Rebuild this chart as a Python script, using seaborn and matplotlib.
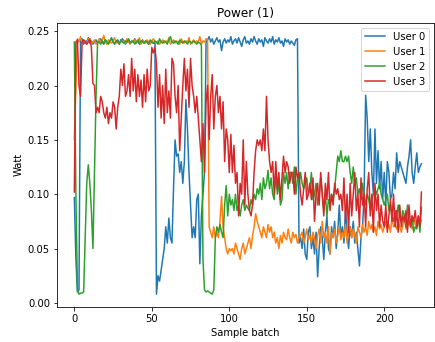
import numpy as np
import pandas as pd
import matplotlib
matplotlib.use("Agg")
import matplotlib.pyplot as plt
import seaborn as sns

users = ["User 0", "User 1", "User 2", "User 3"]

user0 = ([0.097, 0.040, 0.010, 0.012, 0.242]
 + [0.243, 0.238, 0.241, 0.240, 0.244, 0.239, 0.241, 0.238, 0.240, 0.242,
    0.239, 0.241, 0.243, 0.240, 0.238, 0.242, 0.240, 0.239, 0.241, 0.244,
    0.240, 0.238, 0.241, 0.242, 0.239, 0.240, 0.243, 0.241, 0.238, 0.240,
    0.242, 0.239, 0.241, 0.240, 0.243, 0.239, 0.241, 0.238, 0.240, 0.242,
    0.239, 0.241, 0.240, 0.238, 0.241, 0.240, 0.239, 0.240]
 + [0.008, 0.025, 0.020, 0.030, 0.040, 0.050, 0.070, 0.055, 0.078, 0.060,
    0.055, 0.105, 0.150, 0.135, 0.137, 0.120, 0.130, 0.110, 0.130, 0.187,
    0.160, 0.120, 0.090, 0.060, 0.070, 0.060, 0.095, 0.100, 0.036, 0.080,
    0.100, 0.120, 0.240]
 + [0.242, 0.245, 0.240, 0.243, 0.238, 0.241, 0.244, 0.240, 0.242, 0.232,
    0.240, 0.243, 0.239, 0.242, 0.240, 0.245, 0.238, 0.241, 0.243, 0.239,
    0.244, 0.240, 0.236, 0.242, 0.245, 0.239, 0.241, 0.238, 0.243, 0.240,
    0.245, 0.241, 0.238, 0.243, 0.240, 0.242, 0.236, 0.244, 0.241, 0.239,
    0.243, 0.240, 0.245, 0.238, 0.242, 0.240, 0.244, 0.239, 0.241, 0.236,
    0.243, 0.240, 0.242, 0.238, 0.241, 0.239, 0.237, 0.242, 0.243]
 + [0.055, 0.060, 0.050, 0.068, 0.045, 0.040, 0.065, 0.070, 0.050, 0.060,
    0.045, 0.065, 0.024, 0.050, 0.070, 0.060, 0.040, 0.065, 0.080, 0.050,
    0.045, 0.070, 0.060, 0.075, 0.050, 0.065, 0.090, 0.060, 0.070, 0.055,
    0.085, 0.065, 0.050, 0.070, 0.060, 0.075, 0.055, 0.065, 0.050, 0.034,
    0.060, 0.070, 0.100, 0.191, 0.170, 0.130, 0.160, 0.120, 0.100, 0.160,
    0.110, 0.140, 0.105, 0.130, 0.095, 0.120, 0.090, 0.130, 0.120, 0.095,
    0.100, 0.120, 0.105, 0.138, 0.120, 0.130, 0.125, 0.120, 0.115, 0.110,
    0.125, 0.135, 0.150, 0.120, 0.110, 0.125, 0.138, 0.120, 0.125, 0.128])

user1 = ([0.150, 0.200, 0.243]
 + [0.240, 0.245, 0.239, 0.242, 0.240, 0.238, 0.243, 0.241, 0.239, 0.240,
    0.242, 0.238, 0.240, 0.243, 0.239, 0.241, 0.246, 0.240, 0.238, 0.242,
    0.240, 0.239, 0.241, 0.244, 0.239, 0.240, 0.238, 0.242, 0.240, 0.241,
    0.239, 0.243, 0.240, 0.238, 0.241, 0.240, 0.242, 0.239, 0.240, 0.244,
    0.238, 0.241, 0.240, 0.239, 0.242, 0.240, 0.238, 0.241, 0.243, 0.240,
    0.239, 0.241, 0.238, 0.240, 0.242, 0.239, 0.241, 0.240, 0.244, 0.238,
    0.240, 0.242, 0.239, 0.241, 0.240, 0.238, 0.243, 0.240, 0.239, 0.241,
    0.240, 0.244, 0.238, 0.240, 0.242, 0.239, 0.241, 0.240, 0.245, 0.238,
    0.241, 0.240, 0.243, 0.242]
 + [0.070, 0.065, 0.060, 0.070, 0.060, 0.065, 0.060, 0.075, 0.098, 0.070,
    0.060, 0.050, 0.045, 0.050, 0.048, 0.050, 0.045, 0.055, 0.050, 0.045,
    0.040, 0.050, 0.055, 0.045, 0.050, 0.055, 0.060, 0.050, 0.062, 0.070,
    0.082, 0.075, 0.070, 0.065, 0.060, 0.070, 0.065, 0.060, 0.072, 0.065,
    0.070, 0.060, 0.065, 0.055, 0.060, 0.050, 0.062, 0.055, 0.065, 0.060,
    0.058, 0.068, 0.060, 0.055, 0.065, 0.060, 0.063, 0.055, 0.060, 0.062,
    0.065, 0.055, 0.060, 0.068, 0.058, 0.062, 0.055, 0.065, 0.060, 0.050,
    0.062, 0.068, 0.055, 0.075, 0.060, 0.065, 0.055, 0.070, 0.045, 0.065,
    0.060, 0.068, 0.055, 0.062, 0.070, 0.058, 0.065, 0.060, 0.072, 0.055,
    0.065, 0.070, 0.060, 0.068, 0.062, 0.055, 0.070, 0.065, 0.060, 0.072,
    0.065, 0.070, 0.062, 0.075, 0.068, 0.072, 0.065, 0.070, 0.062, 0.075,
    0.068, 0.072, 0.065, 0.070, 0.075, 0.068, 0.072, 0.065, 0.078, 0.070,
    0.072, 0.068, 0.075, 0.070, 0.065, 0.072, 0.078, 0.068, 0.070, 0.075,
    0.072, 0.068, 0.078, 0.072, 0.070, 0.075, 0.072, 0.076])

user2 = ([0.240, 0.100, 0.012, 0.008, 0.009, 0.009, 0.010, 0.060, 0.110, 0.127,
    0.110, 0.085, 0.050, 0.120, 0.190, 0.240]
 + [0.240, 0.238, 0.241, 0.239, 0.242, 0.240, 0.238, 0.241, 0.243, 0.240,
    0.239, 0.241, 0.240, 0.238, 0.242, 0.240, 0.239, 0.241, 0.240, 0.243,
    0.239, 0.240, 0.241, 0.238, 0.240, 0.242, 0.239, 0.241, 0.240, 0.239,
    0.241, 0.240, 0.238, 0.242, 0.240, 0.239, 0.241, 0.240, 0.238, 0.243,
    0.240, 0.239, 0.241, 0.240, 0.238, 0.242, 0.245, 0.240, 0.239, 0.241,
    0.240, 0.238, 0.242, 0.240, 0.239, 0.241, 0.240, 0.238, 0.241, 0.240,
    0.239, 0.241, 0.240, 0.238, 0.240, 0.239, 0.237]
 + [0.040, 0.012, 0.010, 0.011, 0.010, 0.009, 0.008, 0.012, 0.060, 0.070,
    0.065, 0.072, 0.065, 0.060, 0.090, 0.108, 0.080, 0.100, 0.090, 0.095,
    0.085, 0.100, 0.085, 0.090, 0.080, 0.090, 0.095, 0.085, 0.090, 0.087,
    0.085, 0.095, 0.090, 0.100, 0.095, 0.105, 0.100, 0.110, 0.095, 0.115,
    0.105, 0.110, 0.122, 0.105, 0.115, 0.100, 0.095, 0.120, 0.100, 0.110,
    0.090, 0.095, 0.120, 0.110, 0.120, 0.105, 0.120, 0.120, 0.110, 0.125,
    0.100, 0.115, 0.110, 0.120, 0.110, 0.105, 0.110, 0.115, 0.100, 0.105,
    0.120, 0.095, 0.100, 0.110, 0.090, 0.100, 0.115, 0.100, 0.085, 0.100,
    0.080, 0.095, 0.090, 0.100, 0.095, 0.105, 0.120, 0.135, 0.130, 0.140,
    0.130, 0.130, 0.135, 0.130, 0.135, 0.120, 0.110, 0.125, 0.110, 0.115,
    0.100, 0.105, 0.095, 0.110, 0.100, 0.090, 0.100, 0.095, 0.085, 0.095,
    0.100, 0.105, 0.100, 0.105, 0.110, 0.100, 0.095, 0.090, 0.095, 0.100,
    0.085, 0.090, 0.080, 0.075, 0.085, 0.080, 0.090, 0.080, 0.075, 0.085,
    0.080, 0.070, 0.090, 0.075, 0.070, 0.080, 0.065, 0.070, 0.068, 0.080,
    0.065, 0.088])

user3 = [0.102, 0.240, 0.242, 0.200, 0.190, 0.240, 0.242, 0.240, 0.238, 0.240,
    0.243, 0.235, 0.202, 0.200, 0.175, 0.180, 0.175, 0.190, 0.185, 0.175,
    0.170, 0.180, 0.165, 0.175, 0.170, 0.185, 0.180, 0.160, 0.180, 0.190,
    0.215, 0.200, 0.220, 0.190, 0.195, 0.210, 0.190, 0.225, 0.195, 0.215,
    0.185, 0.210, 0.190, 0.205, 0.180, 0.210, 0.185, 0.215, 0.195, 0.200,
    0.235, 0.230, 0.235, 0.220, 0.180, 0.210, 0.170, 0.200, 0.165, 0.215,
    0.175, 0.195, 0.170, 0.225, 0.220, 0.190, 0.175, 0.200, 0.140, 0.170,
    0.200, 0.225, 0.195, 0.215, 0.180, 0.225, 0.200, 0.190, 0.175, 0.190,
    0.170, 0.150, 0.130, 0.165, 0.120, 0.185, 0.200, 0.150, 0.190, 0.210,
    0.160, 0.190, 0.200, 0.175, 0.190, 0.160, 0.185, 0.130, 0.160, 0.150,
    0.120, 0.155, 0.120, 0.145, 0.110, 0.120, 0.080, 0.110, 0.100, 0.150,
    0.090, 0.130, 0.100, 0.085, 0.080, 0.090, 0.120, 0.140, 0.150, 0.145,
    0.150, 0.140, 0.160, 0.140, 0.190, 0.150, 0.130, 0.120, 0.130, 0.100,
    0.130, 0.105, 0.120, 0.095, 0.115, 0.135, 0.120, 0.130, 0.125, 0.110,
    0.120, 0.120, 0.100, 0.125, 0.115, 0.120, 0.100, 0.090, 0.105, 0.120,
    0.095, 0.100, 0.110, 0.095, 0.115, 0.075, 0.100, 0.110, 0.090, 0.120,
    0.100, 0.080, 0.110, 0.095, 0.120, 0.085, 0.100, 0.090, 0.110, 0.100,
    0.105, 0.095, 0.100, 0.085, 0.115, 0.075, 0.100, 0.065, 0.110, 0.080,
    0.100, 0.120, 0.085, 0.100, 0.070, 0.115, 0.090, 0.100, 0.070, 0.105,
    0.120, 0.080, 0.100, 0.065, 0.110, 0.085, 0.100, 0.070, 0.090, 0.075,
    0.070, 0.090, 0.065, 0.080, 0.095, 0.075, 0.100, 0.070, 0.085, 0.065,
    0.090, 0.070, 0.080, 0.075, 0.085, 0.065, 0.090, 0.070, 0.080, 0.075,
    0.085, 0.070, 0.080, 0.070, 0.102]

series = [user0, user1, user2, user3]
frames = []
for name, vals in zip(users, series):
    frames.append(pd.DataFrame({"batch": np.arange(len(vals)), "watt": vals, "user": name}))
df = pd.concat(frames, ignore_index=True)

DPI = 72
fig = plt.figure(figsize=(435 / DPI, 342 / DPI), dpi=DPI)
ax = fig.add_axes([0.131, 0.102, 0.867, 0.832])
sns.lineplot(data=df, x="batch", y="watt", hue="user",
             palette=sns.color_palette("tab10", 4), linewidth=1.5, ax=ax)
ax.set_title("Power (1)")
ax.set_xlabel("Sample batch")
ax.set_ylabel("Watt")
ax.set_xlim(-11.2, 232.2)
ax.set_yticks([0.0, 0.05, 0.10, 0.15, 0.20, 0.25])
ax.set_yticklabels(["0.00", "0.05", "0.10", "0.15", "0.20", "0.25"])
ax.set_xticks([0, 50, 100, 150, 200])
ax.legend(loc="upper right")
fig.savefig("out.png", dpi=DPI)
